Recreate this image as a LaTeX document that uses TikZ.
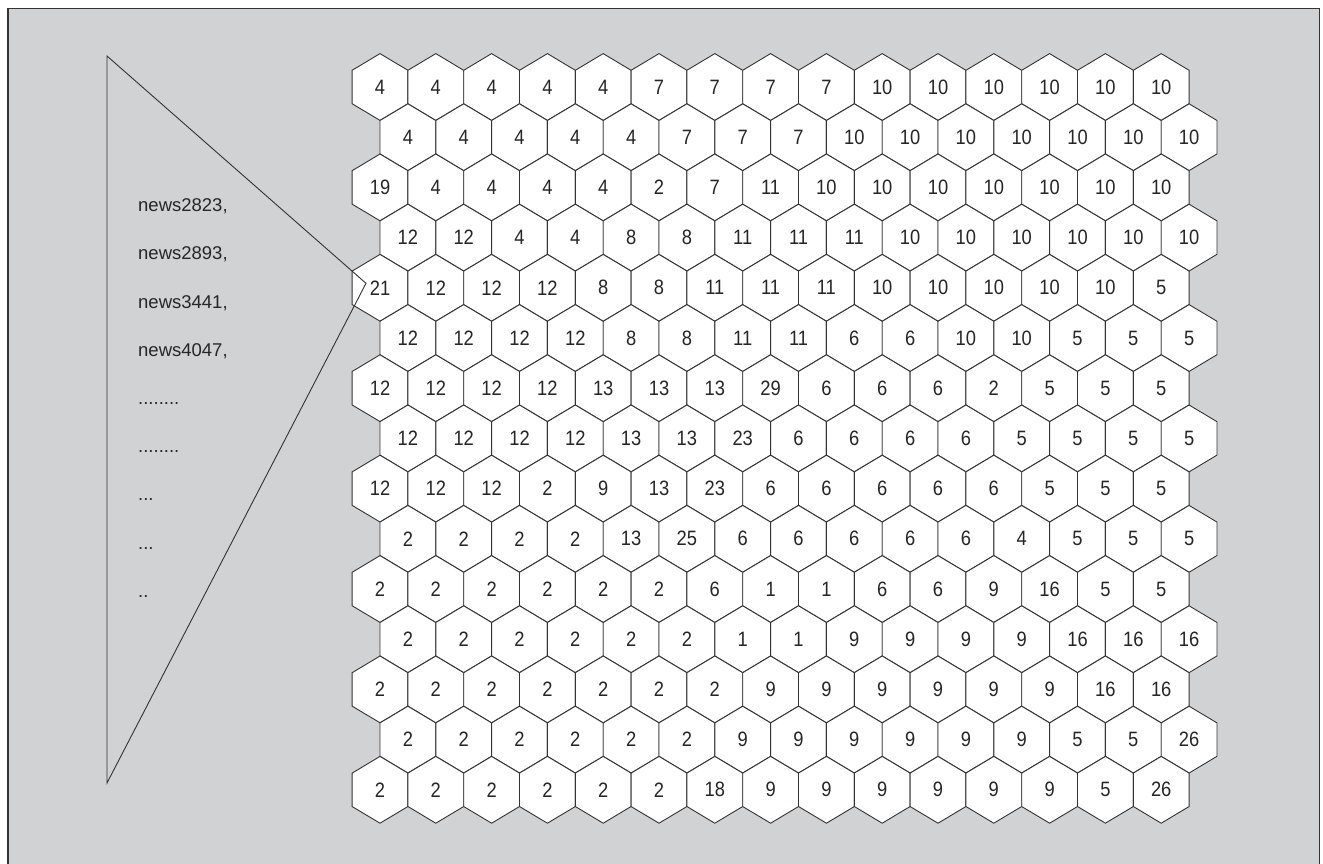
\documentclass[tikz,border=0pt]{standalone}
\usepackage{fontspec}
\setmainfont{Liberation Sans}
\newfontfamily\cellfont{Liberation Sans}[FakeStretch=0.88]
\usepackage{tikz}
\usetikzlibrary{calc}
\definecolor{panelgray}{HTML}{D1D2D4}
\definecolor{inkgray}{HTML}{333333}

\begin{document}
\begin{tikzpicture}[x=1pt, y=-1pt,
    hexcell/.style={draw=inkgray, fill=white, line width=0.9pt, line join=miter},
    cellnum/.style={inner sep=0pt, font=\cellfont\fontsize{20.8}{24}\selectfont, text=black!85},
    listtxt/.style={anchor=base west, inner sep=0pt, font=\fontsize{18.5}{22}\selectfont, text=black!85},
    zoomline/.style={draw=inkgray, line width=0.9pt}]
        \clip (0,0) rectangle (1323,863);
        \fill[white] (0,0) rectangle (1323,863);
        \filldraw[fill=panelgray, draw=inkgray, line width=1.6pt] (8,8.5) rectangle (1319.5,880);
        % the map, row by row
        \foreach \vals [count=\r from 0] in {
            {4,4,4,4,4,7,7,7,7,10,10,10,10,10,10},
            {4,4,4,4,4,7,7,7,10,10,10,10,10,10,10},
            {19,4,4,4,4,2,7,11,10,10,10,10,10,10,10},
            {12,12,4,4,8,8,11,11,11,10,10,10,10,10,10},
            {21,12,12,12,8,8,11,11,11,10,10,10,10,10,5},
            {12,12,12,12,8,8,11,11,6,6,10,10,5,5,5},
            {12,12,12,12,13,13,13,29,6,6,6,2,5,5,5},
            {12,12,12,12,13,13,23,6,6,6,6,5,5,5,5},
            {12,12,12,2,9,13,23,6,6,6,6,6,5,5,5},
            {2,2,2,2,13,25,6,6,6,6,6,4,5,5,5},
            {2,2,2,2,2,2,6,1,1,6,6,9,16,5,5},
            {2,2,2,2,2,2,1,1,9,9,9,9,16,16,16},
            {2,2,2,2,2,2,2,9,9,9,9,9,9,16,16},
            {2,2,2,2,2,2,9,9,9,9,9,9,5,5,26},
            {2,2,2,2,2,2,18,9,9,9,9,9,9,5,26}}{
          \foreach \v [count=\c from 0] in \vals {
            \pgfmathsetmacro\xc{380+55.8*\c+27.9*mod(\r,2)}
            \pgfmathsetmacro\yc{87+50.2*\r}
            \draw[hexcell] (\xc,\yc) +(0,-33.4) -- +(27.9,-16.7) -- +(27.9,16.7)
              -- +(0,33.4) -- +(-27.9,16.7) -- +(-27.9,-16.7) -- cycle;
            \node[cellnum] (c\r-\c) at (\xc,\yc) {\v};
          }
        }
        % documents of the marked cell
        \foreach \i/\lab in {1/{news2823,}, 2/{news2893,}, 3/{news3441,}, 4/{news4047,},
            5/{........}, 6/{........}, 7/{...}, 8/{...}, 9/{..}}{
          \node[listtxt] (item\i) at (138,211.7+48.2*\i-48.2) {\lab};
        }
        \coordinate (tritop) at (107,56);
        \coordinate (tribot) at (107,783);
        \coordinate (apex) at ($(c4-0)+(-14,-4.5)$);
        \draw[zoomline] (tritop) -- (apex) -- (tribot) -- cycle;
      \end{tikzpicture}
\end{document}
